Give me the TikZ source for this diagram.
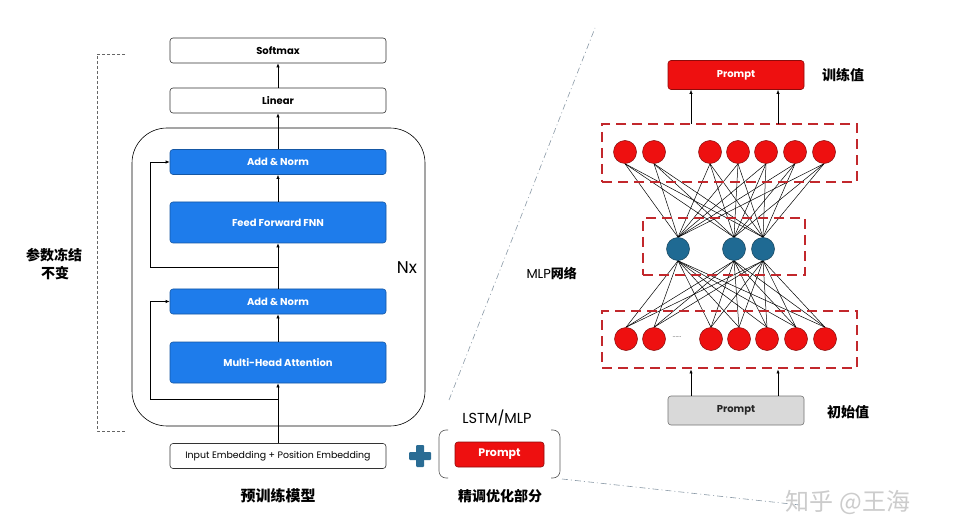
\documentclass[tikz,border=0pt]{standalone}
\usepackage{fontspec}
\setmainfont{Poppins}
\newfontfamily\cjk{Noto Sans CJK SC}
\usetikzlibrary{arrows.meta}
\newcommand\fsz[1]{\fontsize{#1}{#1}\selectfont}
\definecolor{nblue}{HTML}{1E7CEB}
\definecolor{nred}{HTML}{EE1010}
\definecolor{hblue}{HTML}{1F6A93}
\definecolor{dred}{HTML}{C2282C}
\definecolor{pgray}{HTML}{D9D9D9}
\definecolor{plusc}{HTML}{2A6C94}
\definecolor{ddc}{HTML}{8A99A6}
\pgfdeclarelayer{back}
\pgfdeclarelayer{bg}
\pgfsetlayers{back,bg,main}
\begin{document}
\begin{tikzpicture}[x=1pt,y=-1pt,
  box/.style={draw=black!80, line width=0.6pt, rounded corners=3pt, minimum width=216pt, minimum height=25pt, inner sep=0pt, font=\fsz{10}\bfseries},
  bluebox/.style={box, fill=nblue, draw=nblue!70!black, text=white},
  arr/.style={-{Latex[length=4pt,width=3.2pt]}, line width=0.6pt},
  redc/.style={circle, fill=nred, draw=nred!55!black, minimum size=23pt, inner sep=0pt, line width=0.5pt},
  bluec/.style={circle, fill=hblue, draw=hblue!60!black, minimum size=23pt, inner sep=0pt, line width=0.5pt},
  dbox/.style={draw=dred, dash pattern=on 10pt off 6pt, line width=2.8pt, inner sep=0pt},
  link/.style={line width=0.5pt, black},
  cjkl/.style={font=\cjk\bfseries\fsz{14}},
  prompt/.style={rounded corners=3pt, minimum width=136pt, minimum height=29pt, inner sep=0pt, line width=0.6pt, font=\fsz{10}\bfseries},
  dashdot/.style={draw=ddc, line width=0.6pt, dash pattern=on 6pt off 3pt on 1pt off 3pt},
  brk/.style={draw=black!65, line width=0.6pt, rounded corners=7pt}
]
\useasboundingbox (0,0) rectangle (958,529);
\begin{pgfonlayer}{back}
\fill[white] (0,0) rectangle (958,529);
\end{pgfonlayer}

% ---------- left: transformer ----------
\node[draw, line width=0.6pt, rounded corners=35pt, minimum width=293pt, minimum height=298pt] (nx) at (278.5,277) {};
\node[font=\fsz{17}] (nxl) at (407,268) {Nx};

\node[box] (softmax) at (278,50.5) {Softmax};
\node[box] (linear) at (278,100.5) {Linear};
\node[bluebox] (an1) at (278,162) {Add \& Norm};
\node[bluebox, minimum height=41pt] (ffn) at (278,222.5) {Feed Forward FNN};
\node[bluebox] (an2) at (278,301.5) {Add \& Norm};
\node[bluebox, minimum height=41pt] (mha) at (278,362.5) {Multi-Head Attention};
\node[box, font=\fsz{9.4}] (emb) at (278,456) {Input Embedding + Position Embedding};

\draw[arr] (emb.north) -- (mha.south);
\draw[arr] (mha.north) -- (an2.south);
\draw[arr] (an2.north) -- (ffn.south);
\draw[arr] (ffn.north) -- (an1.south);
\draw[arr] (an1.north) -- (linear.south);
\draw[arr] (linear.north) -- (softmax.south);

\coordinate (r1) at (278,399);
\coordinate (r2) at (278,267);
\draw[arr] (r1) -- (150,399) |- (an2.west);
\draw[arr] (r2) -- (150,267) |- (an1.west);

\node[cjkl, font=\cjk\bfseries\fsz{15}] (pre) at (278,496) {预训练模型};

% frozen bracket
\coordinate (fb1) at (125,54);
\coordinate (fb2) at (125,431);
\draw[draw=black!60, line width=0.6pt, dash pattern=on 3pt off 2pt] (fb1) -- (97,54) -- (97,431) -- (fb2);
\node[cjkl] (frz1) at (54,255) {参数冻结};
\node[cjkl] (frz2) at (55,273) {不变};

% plus sign
\fill[plusc, rounded corners=1pt] (416,445) rectangle (424,467);
\fill[plusc, rounded corners=1pt] (409,452) rectangle (431,460);

% LSTM/MLP prompt
\node[font=\fsz{14.5}] (lstm) at (497,418) {LSTM/MLP};
\node[prompt, fill=nred, draw=nred!60!black, text=white, minimum width=89pt, minimum height=25pt, font=\fsz{11}\bfseries] (lp) at (499.5,454.5) {Prompt};
\coordinate (bk1) at (448,430);
\coordinate (bk2) at (551,430);
\draw[brk] (bk1) -| (439,478) -- (448,478);
\draw[brk] (bk2) -| (560,478) -- (551,478);
\node[cjkl] (fine) at (500,496) {精调优化部分};

% dash-dot guides
\coordinate (dd1) at (449,400);
\coordinate (dd2) at (595,28);
\coordinate (dd3) at (562,479);
\coordinate (dd4) at (800,505);
\draw[dashdot] (dd1) -- (dd2);
\draw[dashdot] (dd3) -- (dd4);
\node[font=\fsz{13}, anchor=west] (mlpn) at (523,273) {MLP{\cjk\bfseries 网络}};

% ---------- right: MLP ----------
\node[prompt, fill=nred, draw=nred!60!black, text=white] (topP) at (736,75) {Prompt};
\node[cjkl] (trv) at (843,75) {训练值};
\node[prompt, fill=pgray, draw=black!55, text=black!85] (botP) at (736,410.5) {Prompt};
\node[cjkl] (csv) at (848,412) {初始值};

\node[dbox, minimum width=255pt, minimum height=58pt] (topbox) at (729.5,153) {};
\node[dbox, minimum width=162pt, minimum height=57pt] (midbox) at (724,246.5) {};
\node[dbox, minimum width=255pt, minimum height=57pt] (botbox) at (729.5,339.5) {};

\foreach \x [count=\i] in {625,654,710,738,766,795,824}
  \node[redc] (t\i) at (\x,152) {};
\foreach \x [count=\i] in {678,734,763}
  \node[bluec] (h\i) at (\x,249) {};
\foreach \x [count=\i] in {626,654,711,739,767,796,825}
  \node[redc] (b\i) at (\x,339) {};
\node[font=\fsz{7}, text=black!60] (dots) at (677,337) {......};

\begin{pgfonlayer}{bg}
\foreach \i in {1,...,7}
  \foreach \j in {1,2,3} {
    \draw[link] (t\i.south) -- (h\j.north);
    \draw[link] (h\j.south) -- (b\i.north);
  }
\end{pgfonlayer}

\coordinate (ta1) at (691,124);
\coordinate (ta2) at (778,124);
\draw[arr] (ta1) -- (ta1 |- topP.south);
\draw[arr] (ta2) -- (ta2 |- topP.south);
\coordinate (ba1) at (691,396);
\coordinate (ba2) at (778,396);
\draw[arr] (ba1) -- (ba1 |- botbox.south);
\draw[arr] (ba2) -- (ba2 |- botbox.south);

% watermark
\node[font=\cjk\fsz{24}, text=black!20] (wm) at (848,502) {知乎 @王海};
\end{tikzpicture}
\end{document}
